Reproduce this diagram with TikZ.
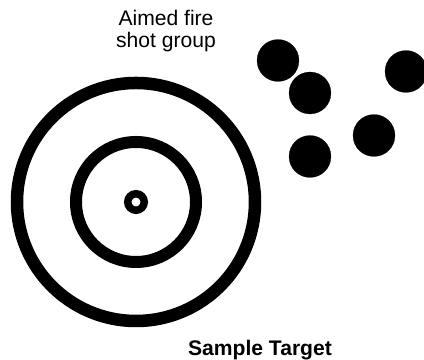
\documentclass[tikz,border=0pt]{standalone}
\usepackage{fontspec}
\setmainfont{Liberation Sans}
\usepackage{tikz}

\begin{document}
\begin{tikzpicture}[ring/.style={draw=cv0,fill=cfv0,shape=circle,inner sep=0pt},
			shot/.style={draw=cv1,fill=cfv1,shape=circle,inner sep=0pt,minimum size=0.84cm,line width=0.1pt}]
				\definecolor{cv0}{rgb}{0.0,0.0,0.0}
				\definecolor{cfv0}{rgb}{1.0,1.0,1.0}
				\definecolor{cv1}{rgb}{0.0,0.0,0.0}
				\definecolor{cfv1}{rgb}{0.0,0.0,0.0}
				\definecolor{clt}{rgb}{0.0,0.0,0.0}
				%
				\useasboundingbox (0,0) rectangle (8.48,7.2);
				%
				\node[ring,minimum size=4.76cm,line width=0.25cm] (v0) at (2.72cm,3.16cm) {};
				\node[ring,minimum size=2.40cm,line width=0.24cm] (v1) at (2.72cm,3.16cm) {};
				\node[ring,minimum size=0.33cm,line width=0.15cm] (v2) at (2.72cm,3.16cm) {};
				\node[shot] (v3) at (5.56cm,5.99cm) {};
				\node[shot] (v4) at (6.20cm,5.34cm) {};
				\node[shot] (v5) at (8.12cm,5.77cm) {};
				\node[shot] (v6) at (7.48cm,4.49cm) {};
				\node[shot] (v7) at (6.20cm,4.07cm) {};
				%
				\node[text=clt,align=center,font=\fontsize{12}{12.5}\selectfont] (tshot) at (3.32cm,6.58cm) {Aimed fire\\shot group};
				\node[text=clt,anchor=base,font=\fontsize{12}{12.5}\selectfont\bfseries] (ttarget) at (5.20cm,0.08cm) {Sample Target};
				%
			\end{tikzpicture}
\end{document}
